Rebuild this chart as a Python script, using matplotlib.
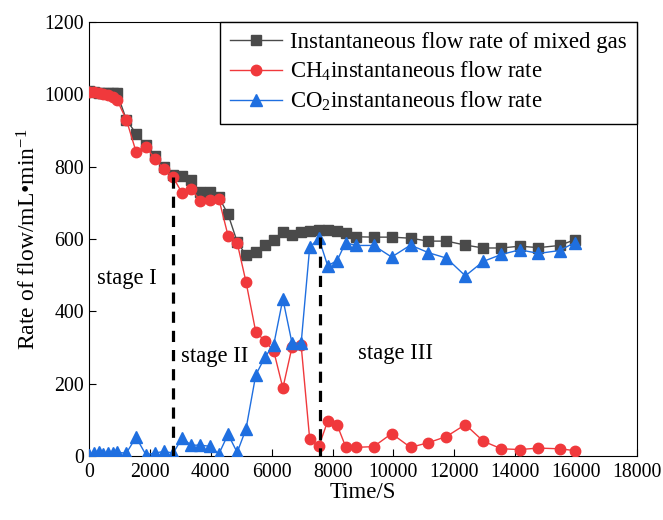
import matplotlib
matplotlib.use('Agg')
import matplotlib.pyplot as plt

plt.rcParams['font.family'] = 'Liberation Serif'
plt.rcParams['mathtext.fontset'] = 'custom'
plt.rcParams['mathtext.rm'] = 'Liberation Serif'
plt.rcParams['mathtext.it'] = 'Liberation Serif:italic'

# time of each sample, s
time_s = [0, 180, 330, 480, 630, 780, 930, 1230, 1550, 1870, 2170, 2460, 2770, 3060, 3360,
          3660, 3970, 4270, 4570, 4870, 5160, 5480, 5780, 6070, 6370, 6670, 6970, 7250,
          7550, 7840, 8150, 8430, 8760, 9350, 9940, 10560, 11150, 11740, 12360, 12950,
          13540, 14150, 14760, 15460, 15950]

mixed_gas = [1008, 1005, 1003, 1002, 1003, 1004, 1002, 930, 891, 860, 830, 800, 778, 775, 763,
             730, 730, 715, 668, 592, 555, 564, 583, 598, 618, 612, 618, 622,
             624, 624, 623, 617, 606, 605, 605, 602, 594, 594, 583, 575,
             575, 580, 576, 582, 598]

ch4 = [1007, 1005, 1002, 1000, 998, 993, 983, 930, 841, 855, 822, 793, 770, 727, 738,
       706, 708, 710, 609, 589, 481, 343, 318, 290, 188, 301, 306, 47,
       27, 96, 86, 26, 24, 26, 62, 24, 37, 54, 87, 41,
       20, 18, 22, 20, 15]

co2 = [2, 8, 10, 7, 9, 8, 10, 8, 52, 4, 8, 13, 8, 50, 30,
       30, 27, 6, 60, 10, 75, 224, 273, 308, 434, 312, 312, 577,
       602, 526, 540, 590, 582, 582, 550, 583, 562, 547, 498, 538,
       557, 570, 560, 568, 590]

# stage boundaries: (time, top of the dashed line)
stage_bounds = [(2770, 770), (7580, 605)]

fig = plt.figure(figsize=(6.63, 5.2), dpi=100)
ax = fig.add_axes([0.134, 0.123, 0.827, 0.835])

ax.plot(time_s, mixed_gas, color='#4a4a4a', lw=1.0, marker='s', ms=6.5,
        label='Instantaneous flow rate of mixed gas', zorder=3)
ax.plot(time_s, ch4, color='#f0393c', lw=1.0, marker='o', ms=7.5,
        label=r'CH$_\mathregular{4}$instantaneous flow rate', zorder=4)
ax.plot(time_s, co2, color='#1f6fe0', lw=1.0, marker='^', ms=8,
        label=r'CO$_\mathregular{2}$instantaneous flow rate', zorder=5)

for t, top in stage_bounds:
    ax.plot([t, t], [top, 0], color='black', lw=2.3, dashes=(3.5, 2.5), zorder=6)

ax.text(1250, 492, 'stage I', fontsize=16.3, ha='center', va='center')
ax.text(4120, 274, 'stage II', fontsize=16.3, ha='center', va='center')
ax.text(10080, 284, 'stage III', fontsize=16.3, ha='center', va='center')

ax.set_xlim(0, 18000)
ax.set_ylim(0, 1200)
ax.set_xticks(range(0, 18001, 2000))
ax.set_yticks(range(0, 1201, 200))
ax.tick_params(direction='in', labelsize=14.3, length=5)
ax.tick_params(axis='x', pad=5)
ax.set_xlabel('Time/S', fontsize=16.5, labelpad=0)
ax.set_ylabel(r'Rate of flow/mL•min$^\mathregular{-1}$', fontsize=17, labelpad=3)

leg = ax.legend(loc='upper right', fontsize=16.4, fancybox=False, edgecolor='black',
                framealpha=1, borderaxespad=0, handlelength=2.3, labelspacing=0.3,
                handletextpad=0.35, borderpad=0.45)
leg.get_frame().set_linewidth(1.0)

fig.savefig('out.png', dpi=100)
